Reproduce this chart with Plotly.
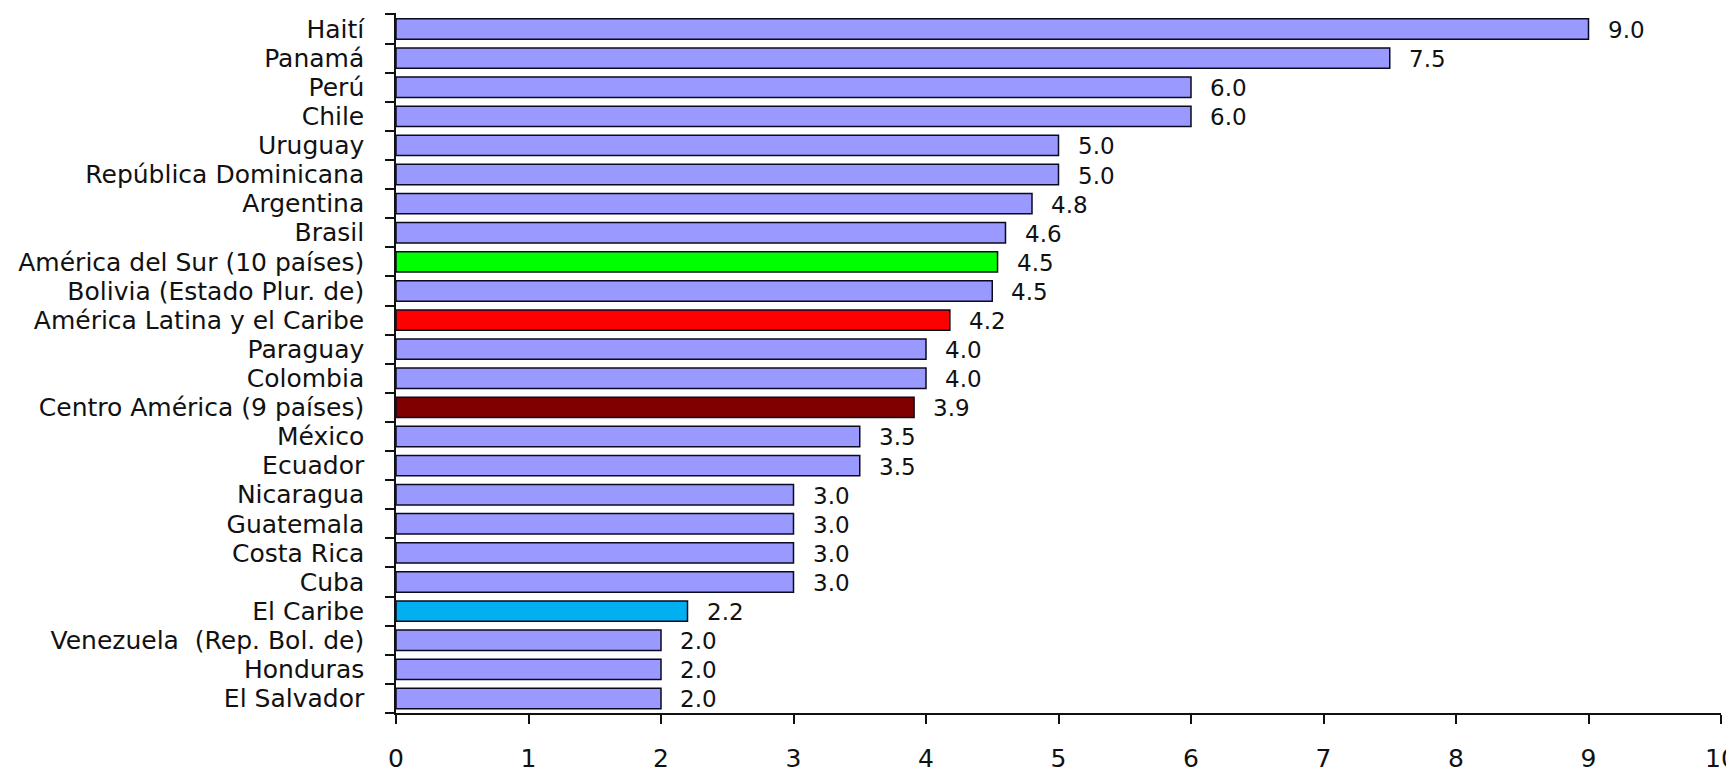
import plotly.graph_objects as go

categories = ["Haití", "Panamá", "Perú", "Chile", "Uruguay", "República Dominicana",
              "Argentina", "Brasil", "América del Sur (10 países)", "Bolivia (Estado Plur. de)",
              "América Latina y el Caribe", "Paraguay", "Colombia", "Centro América (9 países)",
              "México", "Ecuador", "Nicaragua", "Guatemala", "Costa Rica", "Cuba", "El Caribe",
              "Venezuela  (Rep. Bol. de)", "Honduras", "El Salvador"]
values = [9.0, 7.5, 6.0, 6.0, 5.0, 5.0, 4.8, 4.6, 4.54, 4.5, 4.18, 4.0, 4.0, 3.91,
          3.5, 3.5, 3.0, 3.0, 3.0, 3.0, 2.2, 2.0, 2.0, 2.0]
highlight_colors = {
    "América del Sur (10 países)": "#00FF00",
    "América Latina y el Caribe": "#FF0000",
    "Centro América (9 países)": "#800000",
    "El Caribe": "#00B0F0",
}
default_color = "#9999FF"
x_ticks = [0, 1, 2, 3, 4, 5, 6, 7, 8, 9, 10]

colors = [highlight_colors.get(c, default_color) for c in categories]
FONT = "DejaVu Sans"

fig = go.Figure()
fig.add_trace(go.Bar(
    x=values, y=categories, orientation="h",
    marker=dict(color=colors, line=dict(color="#0a0a1e", width=1.5)),
    hoverinfo="x+y",
))

for c, v in zip(categories, values):
    fig.add_annotation(x=v, y=c, text=f"{v:.1f}", showarrow=False,
                       xanchor="left", xshift=17, yshift=-1,
                       font=dict(family=FONT, size=23, color="#111111"))

# page body has a default 8px margin, so the figure is sized/offset to compensate
fig.update_layout(
    width=1726, height=763,
    margin=dict(l=388, r=13, t=5, b=58, autoexpand=False),
    paper_bgcolor="white", plot_bgcolor="white",
    bargap=0.3, showlegend=False,
    font=dict(family=FONT, color="#111111"),
)
fig.update_xaxes(
    range=[0, 10], tickmode="array", tickvals=x_ticks, ticktext=[str(t) for t in x_ticks],
    automargin=False,
    showgrid=False, zeroline=False,
    showline=True, linecolor="#111111", linewidth=1.5,
    ticks="outside", ticklen=9, tickwidth=1.5, tickcolor="#111111",
    ticklabelstandoff=13, ticklabeloverflow="allow",
    tickfont=dict(family=FONT, size=25, color="#111111"),
)
fig.update_yaxes(
    categoryorder="array", categoryarray=categories, autorange="reversed",
    tickmode="array", tickvals=categories, ticktext=categories,
    automargin=False,
    showgrid=False, zeroline=False,
    showline=True, linecolor="#111111", linewidth=1.5,
    ticks="outside", ticklen=9, tickwidth=1.5, tickcolor="#111111",
    tickson="boundaries", ticklabelstandoff=25,
    tickfont=dict(family=FONT, size=25, color="#111111"),
)

fig.write_html("out.html")
